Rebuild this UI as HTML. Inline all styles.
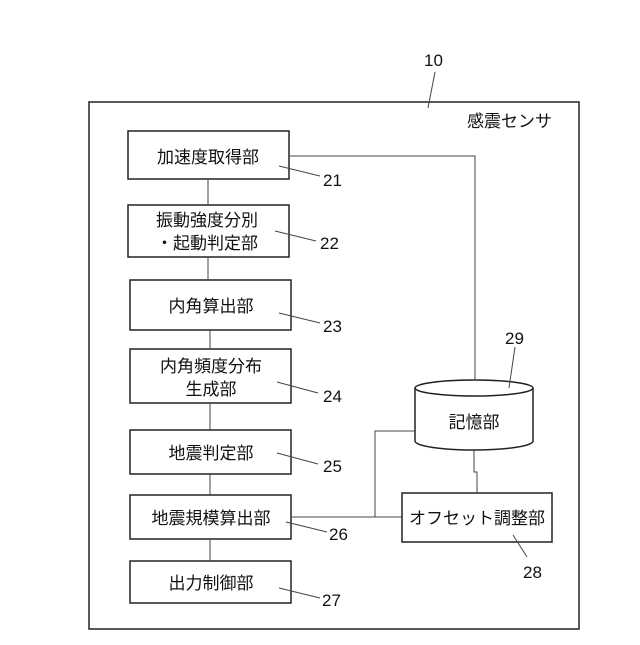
<!DOCTYPE html>
<html><head><meta charset="utf-8"><style>
body{margin:0;background:#fff}
svg text{font-family:"Liberation Sans","Noto Sans CJK JP",sans-serif;fill:#111}
</style></head><body>
<svg width="640" height="640" viewBox="0 0 640 640" xmlns="http://www.w3.org/2000/svg">
<g fill="none" stroke="#222" stroke-width="1.5">
<rect x="89" y="102" width="490" height="527"/>
<rect x="128" y="131" width="161" height="48"/>
<rect x="128" y="205" width="161" height="52"/>
<rect x="130" y="280" width="161" height="50"/>
<rect x="130" y="349" width="161" height="54"/>
<rect x="130" y="430" width="161" height="44"/>
<rect x="130" y="495" width="161" height="44"/>
<rect x="130" y="561" width="161" height="42"/>
<rect x="402" y="493" width="150" height="49"/>
<path d="M415 388 V441 A59 9 0 0 0 533 441 V388"/>
<ellipse cx="474" cy="388" rx="59" ry="8"/>
</g>
<g fill="none" stroke="#444" stroke-width="1">
<path d="M289 156 H475 V380"/>
<path d="M208 179 V205 M208 257 V280 M210 330 V349 M210 403 V430 M210 474 V495 M210 539 V561"/>
<path d="M291 517 H402 M375 517 V431 H415"/>
<path d="M474 450 V472 H477 V493"/>
<path d="M435 72 L428 108"/>
<path d="M279 166 L320 176 M275 231 L316 241 M279 313 L320 323 M277 382 L318 393 M277 453 L318 464 M286 522 L327 532 M279 588 L320 598 M515 347 L509 388 M513 535 L527 557"/>
</g>
<g font-size="17">
<text x="424" y="66">10</text>
<text x="467" y="127">感震センサ</text>
<text x="208" y="163" text-anchor="middle">加速度取得部</text>
<text x="207" y="226" text-anchor="middle">振動強度分別</text>
<text x="207" y="249" text-anchor="middle">・起動判定部</text>
<text x="211" y="312" text-anchor="middle">内角算出部</text>
<text x="211" y="372" text-anchor="middle">内角頻度分布</text>
<text x="211" y="395" text-anchor="middle">生成部</text>
<text x="211" y="459" text-anchor="middle">地震判定部</text>
<text x="211" y="524" text-anchor="middle">地震規模算出部</text>
<text x="211" y="589" text-anchor="middle">出力制御部</text>
<text x="474" y="428" text-anchor="middle">記憶部</text>
<text x="477" y="524" text-anchor="middle">オフセット調整部</text>
<text x="323" y="186">21</text>
<text x="320" y="249">22</text>
<text x="323" y="332">23</text>
<text x="323" y="402">24</text>
<text x="323" y="472">25</text>
<text x="329" y="540">26</text>
<text x="322" y="606">27</text>
<text x="523" y="578">28</text>
<text x="505" y="344">29</text>
</g>
</svg>
</body></html>
